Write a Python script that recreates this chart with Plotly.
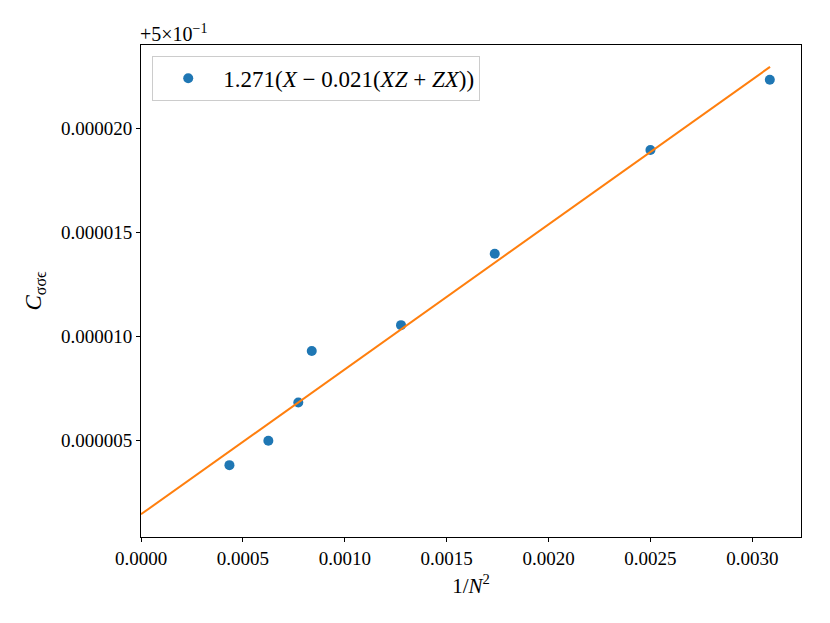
import plotly.graph_objects as go

# Data
x_inv_n2 = [0.000434, 0.000625, 0.000772, 0.000838, 0.001276, 0.001736, 0.002500, 0.003086]
y_offset_vals = [3.83e-6, 5.00e-6, 6.84e-6, 9.31e-6, 10.55e-6, 13.98e-6, 18.96e-6, 22.33e-6]
y_offset = 0.5  # the "+5×10^-1" axis offset

fit_x = [0.0, 0.003087]
fit_y = [1.47e-6, 22.95e-6]

x_ticks = [0.0, 0.0005, 0.0010, 0.0015, 0.0020, 0.0025, 0.0030]
y_ticks = [5e-6, 10e-6, 15e-6, 20e-6]

legend_label = "1.271(<i>X</i> − 0.021(<i>XZ</i> + <i>ZX</i>))"

FONT = "Liberation Serif, DejaVu Serif, serif"

fig = go.Figure()
fig.add_trace(go.Scatter(
    x=x_inv_n2, y=y_offset_vals, mode="markers",
    marker=dict(color="#1f77b4", size=10),
    name=legend_label, showlegend=True,
))
fig.add_trace(go.Scatter(
    x=fit_x, y=fit_y, mode="lines",
    line=dict(color="#ff7f0e", width=2),
    showlegend=False,
))

fig.update_layout(
    width=822, height=615,
    margin=dict(l=133, r=29, t=37, b=86),
    paper_bgcolor="white", plot_bgcolor="white",
    font=dict(family=FONT, size=19, color="black"),
    legend=dict(
        x=0.017, y=0.978, xanchor="left", yanchor="top",
        bgcolor="rgba(255,255,255,0.8)", bordercolor="#cccccc", borderwidth=1,
        font=dict(size=23), itemwidth=60,
    ),
    xaxis=dict(
        range=[0, 0.003239], tickvals=x_ticks, tickformat=".4f",
        showgrid=False, zeroline=False,
        showline=True, linecolor="black", linewidth=1, mirror=True,
        ticks="outside", ticklen=4, tickcolor="black",
        title=dict(text="1/<i>N</i><sup>2</sup>", font=dict(size=21), standoff=10),
    ),
    yaxis=dict(
        range=[0.38e-6, 24.0e-6], tickvals=y_ticks, tickformat=".6f",
        showgrid=False, zeroline=False,
        showline=True, linecolor="black", linewidth=1, mirror=True,
        ticks="outside", ticklen=4, tickcolor="black",
        title=dict(text="<i>C</i><sub>σσϵ</sub>", font=dict(size=23), standoff=12),
    ),
)

fig.add_annotation(
    text="+5×10<sup>−1</sup>", xref="paper", yref="paper",
    x=0, y=1, xanchor="left", yanchor="bottom", showarrow=False,
    font=dict(size=20), xshift=-3, yshift=-2,
)

fig.write_html("out.html")
